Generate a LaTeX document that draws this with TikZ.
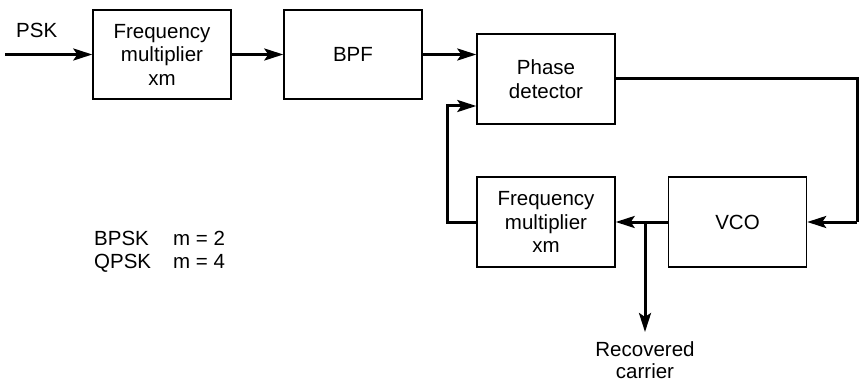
\documentclass[tikz,border=0pt]{standalone}
\usepackage{fontspec}
\setmainfont{Liberation Sans}
\usetikzlibrary{arrows.meta,calc}
\begin{document}
\begin{tikzpicture}[x=1pt,y=1pt,
  font=\fontsize{20.5}{23.5}\selectfont,
  blk/.style={draw,line width=1.4pt,minimum width=138pt,minimum height=89pt,align=center,inner sep=0pt},
  wire/.style={line width=3pt},
  arr/.style={wire,-{Stealth[length=19pt,width=12pt,inset=4pt]}},
  lbl/.style={inner sep=0pt,align=center}]
\useasboundingbox (0,0) rectangle (859,-385);
\node[blk] (fm1) at (162,-54.5) {Frequency\\multiplier\\xm};
\node[blk] (bpf) at (353,-54.5) {BPF};
\node[blk,minimum height=90pt] (pd) at (546,-79) {Phase\\detector};
\node[blk,minimum height=90pt] (fm2) at (546,-222) {Frequency\\multiplier\\xm};
\node[blk,minimum height=90pt] (vco) at (737.5,-222) {VCO};
\coordinate (in) at (5,-54.5);
\coordinate (rtop) at (857,-79);
\coordinate (rbot) at (857,-222);
\coordinate (br) at (645,-222);
\coordinate (brend) at (645,-332);
\coordinate (lbot) at (447,-222);
\coordinate (ltop) at (447,-106);
\node[lbl,anchor=north,font=\fontsize{20.5}{22}\selectfont] (rc) at (645,-341) {Recovered\\carrier};
\node[lbl,anchor=base west] (psk) at (16,-38) {PSK};
\node[lbl,anchor=base west] (bp) at (94,-245) {BPSK};
\node[lbl,anchor=base west] (bm) at (173,-245) {m = 2};
\node[lbl,anchor=base west] (qp) at (94,-268) {QPSK};
\node[lbl,anchor=base west] (qm) at (173,-268) {m = 4};
\draw[arr] (in) -- (fm1.west);
\draw[arr] (fm1.east) -- (bpf.west);
\draw[arr] (bpf.east) -- (bpf.east -| pd.west);
\draw[wire,line join=miter] (pd.east) -- (rtop) -- (rbot);
\draw[arr] (rbot) -- (vco.east);
\draw[arr] (vco.west) -- (fm2.east);
\draw[arr] (br) -- (brend);
\draw[arr,line join=miter] (fm2.west) -- (lbot) -- (ltop) -- (ltop -| pd.west);
\end{tikzpicture}
\end{document}
